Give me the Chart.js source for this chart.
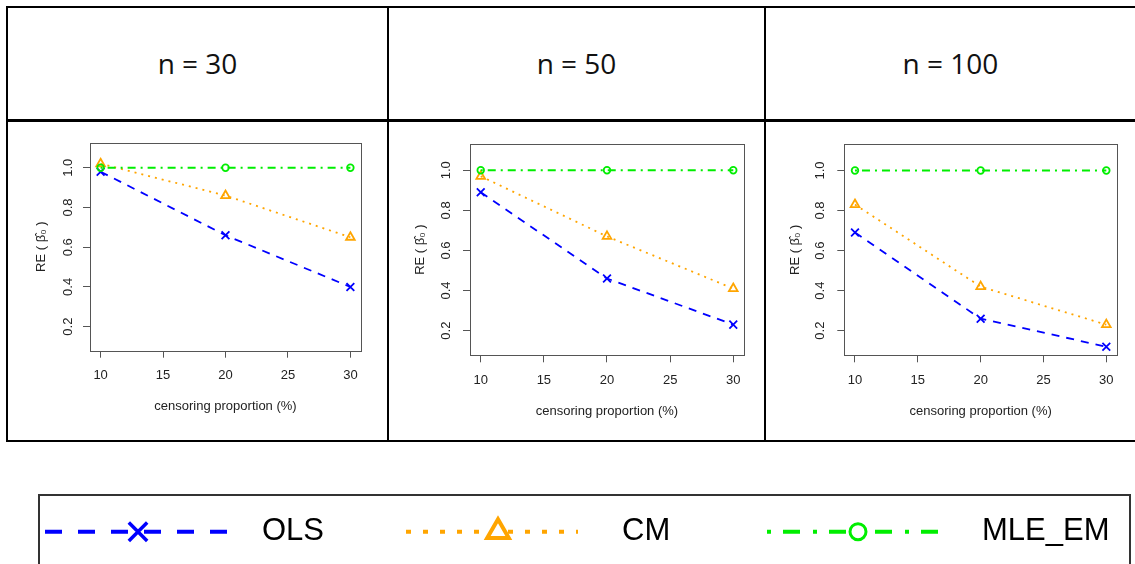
<!DOCTYPE html>
<html>
<head>
<meta charset="utf-8">
<script src="https://cdn.jsdelivr.net/npm/chart.js@4"></script>
<style>
  body { margin: 0; background: #fff; width: 1135px; height: 564px; overflow: hidden; position: relative; }
  .ln { position: absolute; background: #000; }
  .hd { position: absolute; top: 8px; height: 111px; line-height: 111px; text-align: center;
        font-family: "Open Sans", sans-serif; font-size: 28px; color: #111; }
  canvas { position: absolute; }
</style>
</head>
<body>
<!-- table lines -->
<div class="ln" style="left:6px;top:6px;width:1129px;height:2px"></div>
<div class="ln" style="left:6px;top:119px;width:1129px;height:3px"></div>
<div class="ln" style="left:6px;top:440px;width:1129px;height:2px"></div>
<div class="ln" style="left:6px;top:6px;width:2px;height:436px"></div>
<div class="ln" style="left:387px;top:6px;width:2px;height:436px"></div>
<div class="ln" style="left:764px;top:6px;width:2px;height:436px"></div>

<div class="hd" id="h0" style="left:8px;width:379px"></div>
<div class="hd" id="h1" style="left:389px;width:375px"></div>
<div class="hd" id="h2" style="left:766px;width:369px"></div>

<script>
// data
const sampleSizes = ['n = 30', 'n = 50', 'n = 100'];
const seriesNames = ['OLS', 'CM', 'MLE_EM'];
const censoring = [10, 20, 30];
const xTicks = [10, 15, 20, 25, 30];
const yTicks = [0.2, 0.4, 0.6, 0.8, 1.0];

const olsN30 = [0.98, 0.66, 0.40];
const cmN30 = [1.02, 0.86, 0.65];
const emN30 = [1.00, 1.00, 1.00];

const olsN50 = [0.89, 0.46, 0.23];
const cmN50 = [0.97, 0.67, 0.41];
const emN50 = [1.00, 1.00, 1.00];

const olsN100 = [0.69, 0.26, 0.12];
const cmN100 = [0.83, 0.42, 0.23];
const emN100 = [1.00, 1.00, 1.00];

Chart.defaults.font.family = 'Liberation Sans, Arial, sans-serif';
Chart.defaults.color = '#222';

// line / marker look of each series (plot, then legend)
const looks = [
  { color: '#0000ff', dash: [8, 7], point: 'crossRot', r: 5.5, lDash: [17, 16], lR: 13, lW: 3.5 },
  { color: '#ffa500', dash: [2, 5], point: 'triangle', r: 5, lDash: [5, 12], lR: 12.5, lW: 4 },
  { color: '#00ee00', dash: [2, 5, 8, 5], point: 'circle', r: 3.3, lDash: [4, 12, 17, 13], lR: 8, lW: 3 }
];

// panels: canvas box, plot box, label positions (page pixels)
const panels = [
  { series: [olsN30, cmN30, emN30], cv: { x: 9, y: 123, w: 377, h: 316 },
    area: { l: 90, t: 142.7, r: 361, b: 350.7 }, ymin: 0.079, ymax: 1.126,
    yTitleX: 41.7, yTickX: 68.3, xTitleY: 406 },
  { series: [olsN50, cmN50, emN50], cv: { x: 390, y: 123, w: 374, h: 316 },
    area: { l: 470, t: 144, r: 744, b: 355.3 }, ymin: 0.077, ymax: 1.131,
    yTitleX: 420, yTickX: 446, xTitleY: 411.7 },
  { series: [olsN100, cmN100, emN100], cv: { x: 767, y: 123, w: 368, h: 316 },
    area: { l: 844.3, t: 144.3, r: 1117, b: 355.3 }, ymin: 0.077, ymax: 1.131,
    yTitleX: 795, yTickX: 820, xTitleY: 411.7 }
];

const boxPlugin = {
  id: 'box',
  afterDraw(chart) {
    const a = chart.chartArea, ctx = chart.ctx;
    ctx.save();
    ctx.strokeStyle = '#555';
    ctx.lineWidth = 1;
    ctx.strokeRect(Math.round(a.left) + 0.5, Math.round(a.top) + 0.5,
      Math.round(a.right - a.left), Math.round(a.bottom - a.top));
    ctx.restore();
  }
};

function makeCanvas(x, y, w, h) {
  const c = document.createElement('canvas');
  c.width = w; c.height = h;
  c.style.left = x + 'px'; c.style.top = y + 'px';
  c.style.width = w + 'px'; c.style.height = h + 'px';
  document.body.appendChild(c);
  return c;
}

const lh = 13 * 1.2;

panels.forEach(function (p, k) {
  document.getElementById('h' + k).textContent = sampleSizes[k];
  const cv = p.cv, a = p.area;
  const canvas = makeCanvas(cv.x, cv.y, cv.w, cv.h);

  const datasets = p.series.map(function (vals, i) {
    const lk = looks[i];
    return {
      label: seriesNames[i],
      data: censoring.map(function (x, j) { return { x: x, y: vals[j] }; }),
      borderColor: lk.color,
      backgroundColor: 'rgba(0,0,0,0)',
      borderWidth: 1.8,
      borderDash: lk.dash,
      pointStyle: lk.point,
      pointRadius: lk.r,
      pointBorderWidth: 1.8,
      pointBorderColor: lk.color,
      pointBackgroundColor: 'rgba(0,0,0,0)',
      tension: 0,
      order: 3 - i,
      clip: false
    };
  });

  new Chart(canvas, {
    type: 'line',
    data: { datasets: datasets },
    options: {
      responsive: false,
      animation: false,
      events: [],
      layout: {
        padding: {
          left: 0,
          top: a.t - cv.y,
          right: cv.x + cv.w - a.r,
          bottom: cv.y + cv.h - (p.xTitleY + lh / 2)
        }
      },
      plugins: { legend: { display: false }, tooltip: { enabled: false } },
      scales: {
        x: {
          type: 'linear', min: 9.15, max: 30.85,
          afterBuildTicks: function (s) { s.ticks = xTicks.map(function (v) { return { value: v }; }); },
          afterFit: function (s) { s.height = p.xTitleY + lh / 2 - a.b; },
          grid: { drawOnChartArea: false, tickLength: 7, color: '#555' },
          border: { display: false },
          ticks: { padding: 10, maxRotation: 0, autoSkip: false, font: { size: 13 },
                   callback: function (v) { return String(v); } },
          title: { display: true, text: 'censoring proportion (%)', font: { size: 13 },
                   padding: { top: 0, bottom: 0 } }
        },
        y: {
          type: 'linear', min: p.ymin, max: p.ymax,
          afterBuildTicks: function (s) { s.ticks = yTicks.map(function (v) { return { value: v }; }); },
          afterFit: function (s) { s.width = a.l - cv.x; },
          grid: { drawOnChartArea: false, tickLength: 7, color: '#555' },
          border: { display: false },
          ticks: { minRotation: 90, maxRotation: 90, crossAlign: 'center', autoSkip: false,
                   padding: a.l - p.yTickX - 7 - 9.4, font: { size: 13 },
                   callback: function (v) { return v.toFixed(1); } },
          title: { display: true, text: 'RE ( \u03B2\u0302\u2080 )', font: { size: 13 },
                   padding: { top: p.yTitleX - cv.x - lh / 2, bottom: 0 } }
        }
      }
    },
    plugins: [boxPlugin]
  });
});

// legend strip at the bottom, drawn R style from the dataset list
const legendPlugin = {
  id: 'rLegend',
  afterDraw(chart) {
    const ctx = chart.ctx;
    const y = 51.7;
    const slots = [
      { x0: 45, x1: 231.7, m: 138, t: 262 },
      { x0: 406, x1: 578, m: 498, t: 622 },
      { x0: 767, x1: 940, m: 858, t: 982 }
    ];
    ctx.save();
    ctx.strokeStyle = '#333';
    ctx.lineWidth = 2;
    ctx.beginPath();
    ctx.moveTo(39, 90); ctx.lineTo(39, 15); ctx.lineTo(1130, 15); ctx.lineTo(1130, 90);
    ctx.stroke();
    chart.data.datasets.forEach(function (ds, i) {
      const lk = looks[i], s = slots[i];
      ctx.strokeStyle = lk.color;
      ctx.lineWidth = 4;
      ctx.lineCap = 'butt';
      ctx.setLineDash(lk.lDash);
      ctx.beginPath();
      ctx.moveTo(s.x0, y); ctx.lineTo(s.x1, y);
      ctx.stroke();
      ctx.setLineDash([]);
      ctx.fillStyle = '#fff';
      ctx.lineWidth = lk.lW;
      Chart.helpers.drawPoint(ctx, { pointStyle: lk.point, radius: lk.lR, borderWidth: lk.lW, rotation: 0 }, s.m, y);
      ctx.fillStyle = '#000';
      ctx.font = '31px Liberation Sans, Arial, sans-serif';
      ctx.textBaseline = 'middle';
      ctx.textAlign = 'left';
      ctx.fillText(ds.label, s.t, y);
    });
    ctx.restore();
  }
};

new Chart(makeCanvas(0, 480, 1135, 84), {
  type: 'line',
  data: { datasets: seriesNames.map(function (n) { return { label: n, data: [] }; }) },
  options: {
    responsive: false,
    animation: false,
    events: [],
    plugins: { legend: { display: false }, tooltip: { enabled: false } },
    scales: { x: { display: false }, y: { display: false } }
  },
  plugins: [legendPlugin]
});
</script>
</body>
</html>
